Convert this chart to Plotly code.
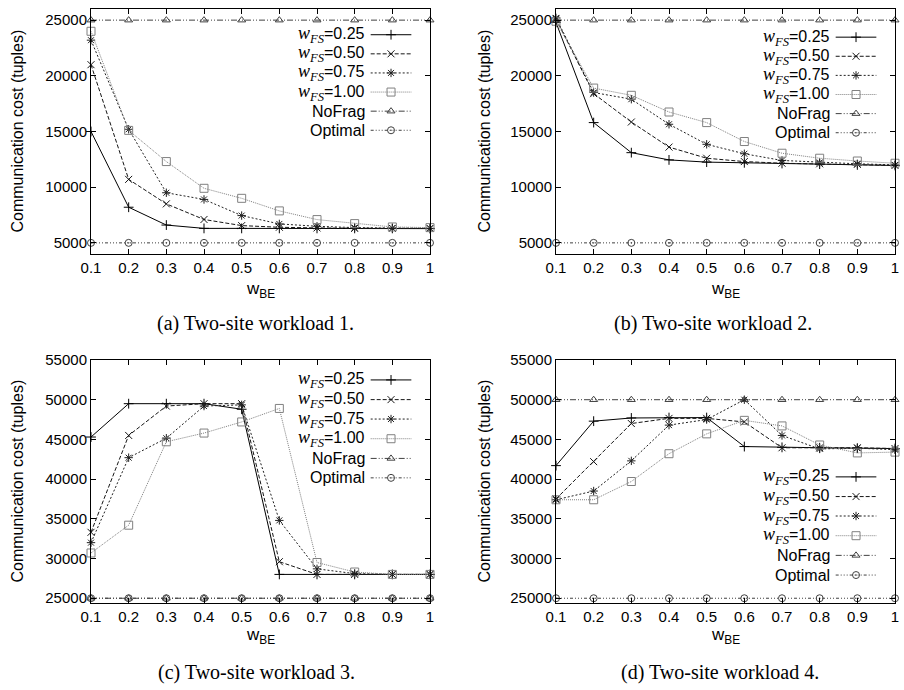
import plotly.graph_objects as go

# ---------------- data ----------------
x_wbe = [0.1, 0.2, 0.3, 0.4, 0.5, 0.6, 0.7, 0.8, 0.9, 1.0]
x_tickvals = [0.1, 0.2, 0.3, 0.4, 0.5, 0.6, 0.7, 0.8, 0.9, 1.0]
x_ticklabels = ["0.1", "0.2", "0.3", "0.4", "0.5", "0.6", "0.7", "0.8", "0.9", "1"]

series_labels = ["w_FS=0.25", "w_FS=0.50", "w_FS=0.75", "w_FS=1.00", "NoFrag", "Optimal"]

# (a) Two-site workload 1
a_w025 = [15000, 8200, 6600, 6300, 6300, 6300, 6300, 6300, 6300, 6280]
a_w050 = [21000, 10700, 8500, 7100, 6550, 6400, 6340, 6300, 6300, 6300]
a_w075 = [23200, 15200, 9500, 8900, 7450, 6700, 6490, 6370, 6330, 6300]
a_w100 = [24000, 15100, 12300, 9900, 9000, 7870, 7090, 6730, 6430, 6370]
a_nofrag = [25000, 25000, 25000, 25000, 25000, 25000, 25000, 25000, 25000, 25000]
a_optimal = [5000, 5000, 5000, 5000, 5000, 5000, 5000, 5000, 5000, 5000]

# (b) Two-site workload 2
b_w025 = [24800, 15800, 13100, 12450, 12250, 12190, 12130, 12070, 12000, 11950]
b_w050 = [25100, 18400, 15850, 13600, 12600, 12300, 12150, 12100, 12050, 11950]
b_w075 = [25200, 18500, 17900, 15650, 13850, 13000, 12400, 12220, 12100, 12000]
b_w100 = [24900, 18900, 18250, 16750, 15800, 14100, 13050, 12600, 12350, 12150]
b_nofrag = [25000, 25000, 25000, 25000, 25000, 25000, 25000, 25000, 25000, 25000]
b_optimal = [5000, 5000, 5000, 5000, 5000, 5000, 5000, 5000, 5000, 5000]

# (c) Two-site workload 3
c_w025 = [45300, 49500, 49500, 49500, 48800, 28000, 28000, 28000, 28000, 28000]
c_w050 = [33300, 45500, 49200, 49500, 49500, 29600, 28000, 28000, 28000, 28000]
c_w075 = [32000, 42700, 45150, 49200, 49350, 34800, 28700, 28100, 28000, 28000]
c_w100 = [30700, 34200, 44700, 45800, 47200, 48900, 29500, 28300, 28000, 28000]
c_nofrag = [25000, 25000, 25000, 25000, 25000, 25000, 25000, 25000, 25000, 25000]
c_optimal = [25000, 25000, 25000, 25000, 25000, 25000, 25000, 25000, 25000, 25000]

# (d) Two-site workload 4
d_w025 = [41700, 47300, 47700, 47750, 47750, 44100, 44000, 43950, 43900, 43850]
d_w050 = [37500, 42200, 47000, 47650, 47650, 47200, 43950, 43950, 43950, 43850]
d_w075 = [37400, 38500, 42300, 46800, 47500, 50000, 45500, 43800, 43900, 43700]
d_w100 = [37400, 37400, 39700, 43200, 45700, 47400, 46700, 44300, 43300, 43400]
d_nofrag = [50000, 50000, 50000, 50000, 50000, 50000, 50000, 50000, 50000, 50000]
d_optimal = [25000, 25000, 25000, 25000, 25000, 25000, 25000, 25000, 25000, 25000]

captions = ["(a) Two-site workload 1.", "(b) Two-site workload 2.",
            "(c) Two-site workload 3.", "(d) Two-site workload 4."]
y_title = "Communication cost (tuples)"
x_title = "w<sub>BE</sub>"

# ---------------- layout geometry (pixels of 904x690 page) ----------------
W, H = 904, 690
SANS = "Liberation Sans, Arial, sans-serif"
SERIF = "Liberation Serif, Times New Roman, serif"

panels = [
    dict(series=[a_w025, a_w050, a_w075, a_w100, a_nofrag, a_optimal],
         px=(91, 430), py=(9, 254), yrange=[4000, 26000], ytick0=5000,
         leg_rows=[0.895, 0.817, 0.739, 0.661, 0.583, 0.505],
         ytitle_x=17, xtitle_y=290, cap_x=255, cap_y=323),
    dict(series=[b_w025, b_w050, b_w075, b_w100, b_nofrag, b_optimal],
         px=(556, 895), py=(9, 254), yrange=[4000, 26000], ytick0=5000,
         leg_rows=[0.885, 0.807, 0.729, 0.651, 0.573, 0.495],
         ytitle_x=484, xtitle_y=290, cap_x=713, cap_y=323),
    dict(series=[c_w025, c_w050, c_w075, c_w100, c_nofrag, c_optimal],
         px=(91, 430), py=(360, 603), yrange=[24400, 55000], ytick0=25000,
         leg_rows=[0.918, 0.837, 0.757, 0.676, 0.595, 0.515],
         ytitle_x=17, xtitle_y=636, cap_x=256, cap_y=672),
    dict(series=[d_w025, d_w050, d_w075, d_w100, d_nofrag, d_optimal],
         px=(556, 895), py=(360, 603), yrange=[24400, 55000], ytick0=25000,
         leg_rows=[0.519, 0.438, 0.358, 0.277, 0.196, 0.115],
         ytitle_x=484, xtitle_y=636, cap_x=720, cap_y=672),
]

styles = [
    dict(color="#000000", dash="solid", symbol="cross-thin-open", size=7),
    dict(color="#151515", dash="4px,2px", symbol="x-thin-open", size=7),
    dict(color="#202020", dash="2px,2px", symbol="asterisk-open", size=7),
    dict(color="#808080", dash="1px,1px", symbol="square-open", size=8),
    dict(color="#404040", dash="6px,2px,1px,2px,1px,2px", symbol="triangle-up-open", size=7),
    dict(color="#404040", dash="3px,2px,1px,2px,1px,2px,1px,2px", symbol="circle-open-dot", size=7),
]


def legend_text(label):
    if label.startswith("w_FS"):
        return ('<span style="font-family:Liberation Serif;font-style:italic;font-size:18px">'
                'w<sub>FS</sub></span>' + label[4:])
    return label


LEG_TEXT_X = 0.815
LEG_LINE = (0.825, 0.945)

fig = go.Figure()
layout = dict(template="none", width=W, height=H, margin=dict(l=0, r=0, t=0, b=0, pad=0),
              paper_bgcolor="white", plot_bgcolor="white", showlegend=False,
              font=dict(family=SANS, size=15, color="black"))
annotations = []

for i, p in enumerate(panels):
    n = i + 1
    k = i + 5
    xid = "x" if n == 1 else f"x{n}"
    yid = "y" if n == 1 else f"y{n}"
    xname = "xaxis" if n == 1 else f"xaxis{n}"
    yname = "yaxis" if n == 1 else f"yaxis{n}"
    xdom = [p["px"][0] / W, p["px"][1] / W]
    ydom = [1 - p["py"][1] / H, 1 - p["py"][0] / H]
    axis_common = dict(showline=True, linecolor="black", linewidth=1, mirror="allticks",
                       ticks="inside", ticklen=5, tickcolor="black", tickwidth=1,
                       showgrid=False, zeroline=False, automargin=False,
                       ticklabeloverflow="allow",
                       tickfont=dict(family=SANS, size=15, color="black"))
    layout[xname] = dict(domain=xdom, anchor=yid, range=[0.1, 1.0],
                         tickvals=x_tickvals, ticktext=x_ticklabels, **axis_common)
    layout[yname] = dict(domain=ydom, anchor=xid, range=p["yrange"],
                         tick0=p["ytick0"], dtick=5000, tickformat="d", **axis_common)
    # overlay axes used only to place the key samples inside each panel
    layout[f"xaxis{k}"] = dict(overlaying=xid, anchor=f"y{k}", range=[0, 1], visible=False,
                               automargin=False)
    layout[f"yaxis{k}"] = dict(overlaying=yid, anchor=f"x{k}", range=[0, 1], visible=False,
                               automargin=False)

    for s, (vals, st, lab) in enumerate(zip(p["series"], styles, series_labels)):
        mk = dict(symbol=st["symbol"], size=st["size"], color=st["color"],
                  line=dict(color=st["color"], width=1))
        fig.add_trace(go.Scatter(x=x_wbe, y=vals, xaxis=xid, yaxis=yid,
                                 mode="lines+markers", cliponaxis=False,
                                 line=dict(color=st["color"], width=1, dash=st["dash"]),
                                 marker=mk, name=lab, hoverinfo="skip"))
        r = p["leg_rows"][s]
        fig.add_trace(go.Scatter(x=list(LEG_LINE), y=[r, r], xaxis=f"x{k}", yaxis=f"y{k}",
                                 mode="lines", cliponaxis=False,
                                 line=dict(color=st["color"], width=1, dash=st["dash"]),
                                 hoverinfo="skip", name=lab))
        fig.add_trace(go.Scatter(x=[(LEG_LINE[0] + LEG_LINE[1]) / 2], y=[r],
                                 xaxis=f"x{k}", yaxis=f"y{k}", mode="markers",
                                 cliponaxis=False, marker=mk, hoverinfo="skip", name=lab))
        annotations.append(dict(xref=f"{xid} domain", yref=f"{yid} domain",
                                x=LEG_TEXT_X, y=r, xanchor="right", yanchor="middle",
                                text=legend_text(lab), showarrow=False,
                                font=dict(family=SANS, size=16, color="black")))

    # y axis title
    annotations.append(dict(xref="paper", yref="paper", x=p["ytitle_x"] / W,
                            y=1 - (p["py"][0] + p["py"][1]) / 2 / H,
                            xanchor="center", yanchor="middle", textangle=-90,
                            text=y_title, showarrow=False,
                            font=dict(family=SANS, size=16, color="black")))
    # x axis title
    annotations.append(dict(xref="paper", yref="paper",
                            x=(p["px"][0] + p["px"][1]) / 2 / W,
                            y=1 - p["xtitle_y"] / H, xanchor="center", yanchor="middle",
                            text=x_title, showarrow=False,
                            font=dict(family=SANS, size=17, color="black")))
    # caption
    annotations.append(dict(xref="paper", yref="paper", x=p["cap_x"] / W,
                            y=1 - p["cap_y"] / H, xanchor="center", yanchor="middle",
                            text=captions[i], showarrow=False,
                            font=dict(family=SERIF, size=20, color="black")))

layout["annotations"] = annotations
fig.update_layout(**layout)
fig.write_html("out.html", config={"displayModeBar": False},
               post_script="document.body.style.margin='0';document.body.style.overflow='hidden';")
